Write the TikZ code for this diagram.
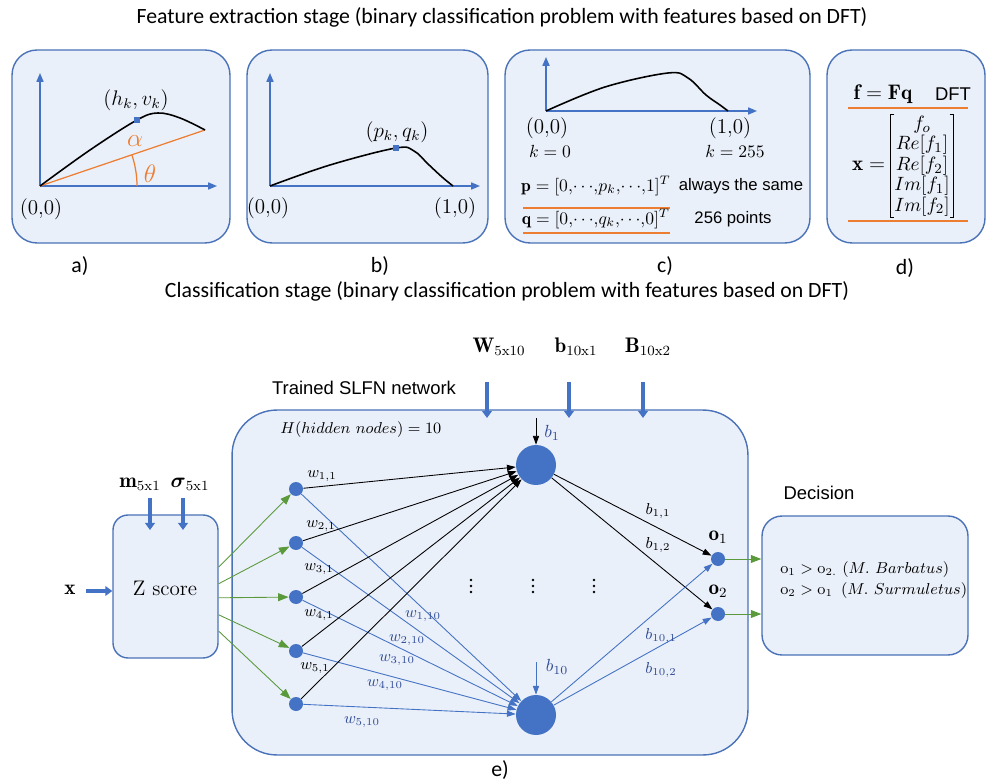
\documentclass[tikz,border=0pt]{standalone}
\usepackage{amsmath,amssymb}
\usepackage{fontspec}
\newfontfamily\calibfont{Carlito}
\newfontfamily\arialfont{Liberation Sans}
\usepackage{tikz}
\usetikzlibrary{arrows.meta,positioning,calc}
\definecolor{boxfill}{HTML}{EAF0F9}
\definecolor{boxline}{HTML}{4A72B8}
\definecolor{nodeblue}{HTML}{4472C4}
\definecolor{labblue}{HTML}{2F4B96}
\definecolor{lineorange}{HTML}{ED7D31}
\definecolor{arrowgreen}{HTML}{5B9A3C}
\newcommand{\tightrows}{\lineskiplimit=-10pt\relax}

\begin{document}
\begin{tikzpicture}[x=0.02cm, y=-0.02cm,
    panel/.style={draw=boxline, fill=boxfill, line width=0.8pt,
                  rounded corners=0.5cm, inner sep=0pt},
    axis/.style={draw=nodeblue, line width=0.8pt, -{Triangle[length=5pt,width=4pt]}},
    curve/.style={line width=0.9pt},
    marker/.style={fill=nodeblue, inner sep=0pt, minimum size=0.12cm},
    caption/.style={font=\calibfont\fontsize{12.4}{14}\selectfont},
    sanslab/.style={font=\arialfont\fontsize{9.5}{11}\selectfont},
    mathlab/.style={font=\large, inner sep=1pt},
    sep/.style={draw=lineorange, line width=0.8pt},
    bracket/.style={line width=0.6pt},
    innode/.style={circle, fill=nodeblue, minimum size=0.28cm, inner sep=0pt},
    hidnode/.style={circle, fill=nodeblue, minimum size=0.8cm, inner sep=0pt},
    wire/.style={line width=0.5pt, -{Triangle[length=5pt,width=3.5pt]}},
    bluewire/.style={wire, draw=nodeblue},
    greenwire/.style={wire, draw=arrowgreen, -{Triangle[length=6pt,width=4.5pt]}},
    feed/.style={draw=nodeblue, line width=2.3pt, -{Triangle[length=4pt,width=5.5pt]}},
    wlab/.style={font=\small, inner sep=1pt},
    every node/.style={font=\normalsize}
  ]
    \useasboundingbox (0,0) rectangle (990,780);

    % Feature extraction stage
    \node[caption] (title1) at (502,17)
      {Feature extraction stage (binary classification problem with features based on DFT)};

    % a) angle of the curve
    \node[panel, minimum width=4.36cm, minimum height=3.86cm] (pa) at (121,146.5) {};
    \coordinate (oa) at (40,186);
    \coordinate (ya) at (40,73);
    \coordinate (xa) at (217,186);
    \coordinate (ea) at (205,130);
    \draw[axis] (oa) -- (ya);
    \draw[axis] (oa) -- (xa);
    \draw[lineorange, line width=0.7pt] (oa) -- (ea);
    \draw[lineorange, line width=0.7pt] (137,186) arc[start angle=0, end angle=-18.7, radius=97];
    \draw[curve] plot[smooth, tension=0.6] coordinates
      {(40,186) (90,150) (137,120) (158,113) (180,118) (205,130)};
    \node[marker] (mka) at (137,120) {};
    \node[mathlab] (hv) at (136,100) {$(h_k,v_k)$};
    \node[mathlab, font=\Large, text=lineorange] (alpha) at (135,141) {$\alpha$};
    \node[mathlab, font=\Large, text=lineorange] (theta) at (150,174) {$\theta$};
    \node[mathlab] (za) at (41,209) {$(0{,}0)$};
    \node[caption] (capa) at (80,266) {a)};

    % b) normalised curve
    \node[panel, minimum width=4.82cm, minimum height=3.86cm] (pb) at (367.5,146.5) {};
    \coordinate (ob) at (270,186);
    \coordinate (yb) at (270,73);
    \coordinate (xb) at (480,186);
    \draw[axis] (ob) -- (yb);
    \draw[axis] (ob) -- (xb);
    \draw[curve] plot[smooth, tension=0.6] coordinates
      {(270,186) (330,165) (396,148) (414,151) (428,164) (442,177) (453,186)};
    \node[marker] (mkb) at (396,148) {};
    \node[mathlab] (pq) at (397,132) {$(p_k,q_k)$};
    \node[mathlab] (zb) at (268,208) {$(0{,}0)$};
    \node[mathlab] (ub) at (455,208) {$(1{,}0)$};
    \node[caption] (capb) at (380,266) {b)};

    % c) sampled points
    \node[panel, minimum width=6.1cm, minimum height=3.86cm] (pc) at (657.5,146.5) {};
    \coordinate (oc) at (546,111);
    \coordinate (yc) at (546,57);
    \coordinate (xc) at (757,111);
    \draw[axis] (oc) -- (yc);
    \draw[axis] (oc) -- (xc);
    \draw[curve] plot[smooth, tension=0.6] coordinates
      {(546,111) (605,87) (668,73) (688,78) (706,95) (720,105) (728,111)};
    \node[mathlab] (zc) at (547,128) {$(0{,}0)$};
    \node[inner sep=1pt] (k0) at (550,151) {$k=0$};
    \node[mathlab] (uc) at (730,128) {$(1{,}0)$};
    \node[inner sep=1pt] (k255) at (735,151) {$k=255$};
    \node[inner sep=1pt] (peq) at (596,186) {$\mathbf{p}=[0{,}{\cdots}{,}p_k{,}{\cdots}{,}1]^T$};
    \node[sanslab] (same) at (741,186) {always the same};
    \draw[sep] (523,208) -- (670,208);
    \node[inner sep=1pt] (qeq) at (596,219) {$\mathbf{q}=[0{,}{\cdots}{,}q_k{,}{\cdots}{,}0]^T$};
    \node[sanslab] (pts) at (733,219) {256 points};
    \draw[sep] (523,233) -- (670,233);
    \node[caption] (capc) at (665,266) {c)};

    % d) DFT features
    \node[panel, minimum width=3.16cm, minimum height=3.86cm] (pd) at (906,146.5) {};
    \node[inner sep=1pt, font=\large] (feq) at (883,94) {$\mathbf{f}=\mathbf{F}\mathbf{q}$};
    \node[sanslab, font=\arialfont\fontsize{10.5}{12}\selectfont] (dft) at (953,94) {DFT};
    \draw[sep] (848,108) -- (968,108);
    \node[align=center, inner xsep=1.5pt, inner ysep=0pt,
          font=\fontsize{11}{11.6}\selectfont\tightrows] (xent) at (922,166)
      {$f_o$\\ $Re[f_1]$\\ $Re[f_2]$\\ $Im[f_1]$\\ $Im[f_2]$};
    \draw[bracket] (xent.north west) ++(3,-1) -- ++(-4,0) |- ($(xent.south west)+(3,1)$);
    \draw[bracket] (xent.north east) ++(-3,-1) -- ++(4,0) |- ($(xent.south east)+(-3,1)$);
    \node[anchor=east, inner sep=1pt, font=\large] (xeq) at ([xshift=-0.08cm]xent.west) {$\mathbf{x}=$};
    \draw[sep] (848,221) -- (968,221);
    \node[caption] (capd) at (905,268) {d)};

    % Classification stage
    \node[caption] (title2) at (507,291)
      {Classification stage (binary classification problem with features based on DFT)};

    % Z score block
    \node[panel, rounded corners=0.3cm, minimum width=2.1cm, minimum height=2.86cm] (zs) at (165.5,586.5) {};
    \node[font=\large] (zt) at (165,588) {Z score};
    \node[mathlab] (xin) at (70,590) {$\mathbf{x}$};
    \coordinate (xstart) at (86,591);
    \draw[feed] (xstart) -- (zs.west |- xstart);
    \node[mathlab] (mlab) at (140,484) {$\mathbf{m}_{5\mathrm{x}1}$};
    \node[mathlab] (slab) at (190,484) {$\boldsymbol{\sigma}_{5\mathrm{x}1}$};
    \coordinate (mtop) at (150,498);
    \coordinate (stop) at (183,498);
    \draw[feed] (mtop) -- ++(0,32);
    \draw[feed] (stop) -- ++(0,32);

    % Trained SLFN network
    \node[panel, rounded corners=0.9cm, minimum width=10.32cm, minimum height=6.9cm] (net) at (490,582.5) {};
    \node[sanslab, font=\arialfont\fontsize{10.5}{12}\selectfont] (slfn) at (364,388) {Trained SLFN network};
    \node[anchor=west, inner sep=0pt, font=\small] (hnum) at (280,430) {$H(hidden\ nodes)=10$};
    \node[mathlab] (wlab) at (499,347) {$\mathbf{W}_{5\mathrm{x}10}$};
    \node[mathlab] (blab) at (576,347) {$\mathbf{b}_{10\mathrm{x}1}$};
    \node[mathlab] (Blab) at (648,347) {$\mathbf{B}_{10\mathrm{x}2}$};
    \foreach \n/\x in {W/487, b/569, B/643}
      \draw[feed] (\x,382) coordinate (feed\n) -- ++(0,36);

    % input, hidden and output nodes
    \foreach \i/\y in {1/489, 2/543, 3/597, 4/651, 5/704}
      \node[innode] (in\i) at (296,\y) {};
    \node[hidnode] (h1) at (536,465) {};
    \node[hidnode] (h10) at (536,715) {};
    \node[innode] (o1) at (718,559) {};
    \node[innode] (o2) at (718,614) {};
    \node[inner sep=1pt, font=\large] (o1lab) at (718,537) {$\mathbf{o}_1$};
    \node[inner sep=1pt, font=\large] (o2lab) at (718,591) {$\mathbf{o}_2$};

    % biases
    \coordinate (b1in) at (536,418);
    \coordinate (b10in) at (536,662);
    \draw[wire] (b1in) -- (h1);
    \draw[bluewire] (b10in) -- (h10);
    \node[text=labblue, inner sep=1pt] (b1lab) at (552,433) {$b_1$};
    \node[text=labblue, inner sep=1pt] (b10lab) at (557,667) {$b_{10}$};

    % Z score to inputs
    \draw[greenwire] (zs.20) -- (in1);
    \draw[greenwire] (zs.3) -- (in2);
    \draw[greenwire] (zs.-12) -- (in3);
    \draw[greenwire] (zs.-28) -- (in4);
    \draw[greenwire] (zs.-40) -- (in5);

    % input weights
    \foreach \i in {1,...,5} {
      \draw[wire] (in\i) -- (h1);
      \draw[bluewire] (in\i) -- (h10);
    }
    \node[wlab] (w11) at (322,476) {$w_{1,1}$};
    \node[wlab] (w21) at (321,526) {$w_{2,1}$};
    \node[wlab] (w31) at (319,569) {$w_{3,1}$};
    \node[wlab] (w41) at (319,615) {$w_{4,1}$};
    \node[wlab] (w51) at (315,668) {$w_{5,1}$};
    \node[wlab, text=labblue] (w110) at (423,616) {$w_{1,10}$};
    \node[wlab, text=labblue] (w210) at (407,640) {$w_{2,10}$};
    \node[wlab, text=labblue] (w310) at (397,660) {$w_{3,10}$};
    \node[wlab, text=labblue] (w410) at (385,685) {$w_{4,10}$};
    \node[wlab, text=labblue] (w510) at (362,722) {$w_{5,10}$};

    % output weights
    \draw[wire] (h1) -- (o1);
    \draw[wire] (h1) -- (o2);
    \draw[bluewire] (h10) -- (o1);
    \draw[bluewire] (h10) -- (o2);
    \node[wlab] (b11) at (658,511) {$b_{1,1}$};
    \node[wlab] (b12) at (658,545) {$b_{1,2}$};
    \node[wlab, text=labblue] (b101) at (661,636) {$b_{10,1}$};
    \node[wlab, text=labblue] (b102) at (661,670) {$b_{10,2}$};

    % hidden nodes left out
    \foreach \x in {471, 533, 594}
      \foreach \y in {580, 586, 592}
        \fill (\x,\y) circle[radius=1.4];

    % Decision
    \node[panel, rounded corners=0.4cm, minimum width=4.12cm, minimum height=2.78cm] (dec) at (865,585.5) {};
    \node[sanslab, font=\arialfont\fontsize{10.5}{12}\selectfont] (declab) at (819,493) {Decision};
    \node[anchor=west, align=left, inner sep=0pt, font=\small] (dectext) at (780,580)
      {$\mathrm{o}_1>\mathrm{o}_{2.}\ (M.\ Barbatus)$\\[1pt]
       $\mathrm{o}_2>\mathrm{o}_1\ \,(M.\ Surmuletus)$};
    \draw[greenwire] (o1) -- (o1 -| dec.west);
    \draw[greenwire] (o2) -- (o2 -| dec.west);

    \node[caption] (cape) at (500,770) {e)};
  \end{tikzpicture}
\end{document}
